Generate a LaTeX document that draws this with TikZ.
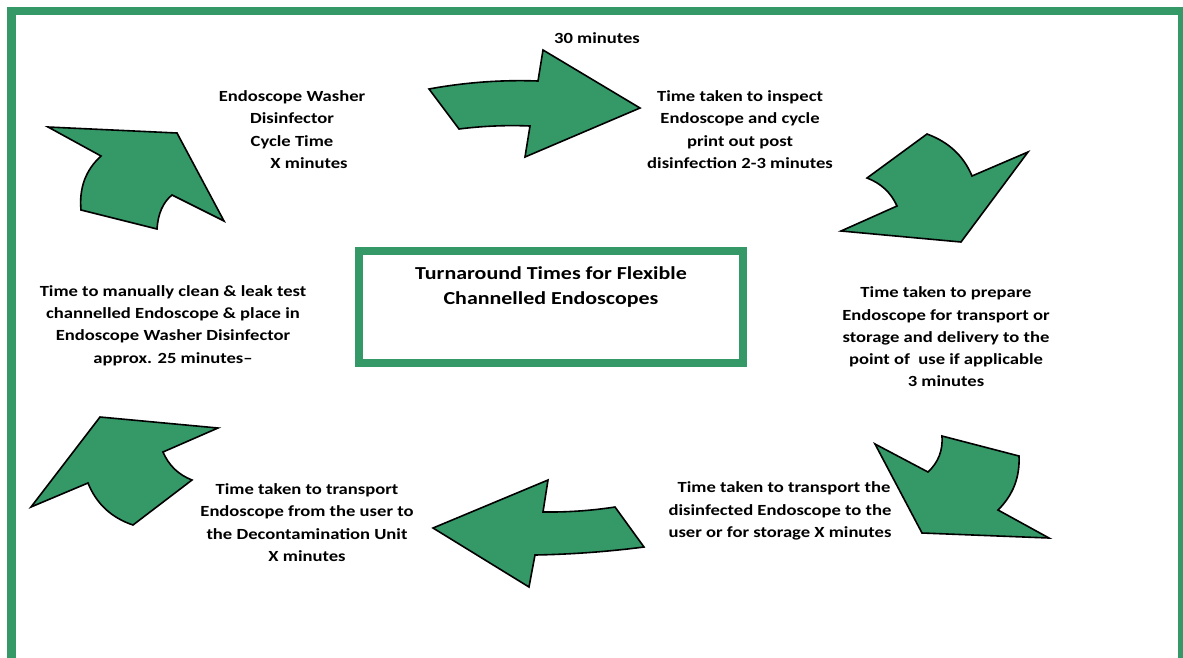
\documentclass[tikz,border=0pt]{standalone}
\usepackage{fontspec}
\setmainfont{Carlito}[FakeStretch=1.2]
\definecolor{grn}{RGB}{52,152,103}
\begin{document}
\begin{tikzpicture}[x=1pt,y=-1pt,
  arr/.style={fill=grn,draw=black,line width=1.6pt,line join=miter},
  lbl/.style={font=\bfseries\fontsize{15.5}{22.3}\selectfont,align=center,inner sep=0pt}]
\useasboundingbox (0,0) rectangle (1183,657);
\begin{scope}
\clip (0,0) rectangle (1183,657);
\draw[grn,line width=8.5pt] (11.5,11) rectangle (1182,720);
\end{scope}
% centre box
\node[draw=grn,line width=7.5pt,minimum width=384pt,minimum height=112pt,inner sep=0pt] (box) at (551,307) {};
\node[font=\bfseries\fontsize{18.3}{25}\selectfont,align=center,inner sep=0pt] (title) at (551,287) {Turnaround Times for Flexible\\Channelled Endoscopes};
% labels
\node[lbl] (t30) at (597,38) {30 minutes};
\node[lbl] (twd) at (292,129.5) {Endoscope Washer\\Disinfector\\Cycle Time\\\hspace*{34pt}X minutes};
\node[lbl] (tinsp) at (740,129.5) {Time taken to inspect\\Endoscope and cycle\\print out post\\disinfection 2-3 minutes};
\node[lbl] (tprep) at (946,337) {Time taken to prepare\\Endoscope for transport or\\storage and delivery to the\\point of\ \ use if applicable\\3 minutes};
\node[lbl] (ttrans) at (780,511) {\hspace*{8pt}Time taken to transport the\\disinfected Endoscope to the\\user or for storage X minutes};
\node[lbl] (tuser) at (307,522.5) {Time taken to transport\\Endoscope from the user to\\the Decontamination Unit\\X minutes};
\node[lbl] (tclean) at (173,325.5) {Time to manually clean \& leak test\\channelled Endoscope \& place in\\Endoscope Washer Disinfector\\approx. 25 minutes–};
% arrows
% top
\draw[arr] (429,89) .. controls (465.3,82.3) and (501.7,79.7) .. (538,81) -- (543,50) -- (640,108) -- (525,157) -- (530,126)
  .. controls (506.3,125) and (482.7,126) .. (459,129) -- cycle;
% top right
\draw[arr] (927,134) .. controls (948.7,142) and (963.7,156) .. (972,176) -- (1028,152) -- (961,242) -- (841,231) -- (897,206)
  .. controls (891,192.7) and (881,183.3) .. (867,178) -- cycle;
% bottom right
\draw[arr] (942,436) -- (1019,456) .. controls (1020,477.2) and (1013,495.2) .. (998,510) -- (1049,538) -- (922,533) -- (875,444)
  -- (928,472) .. controls (938.4,462.3) and (943,450.3) .. cycle;
% bottom
\draw[arr] (433,528) -- (548,480) -- (543,512) .. controls (567,512.3) and (591,510.7) .. (615,507) -- (644,547)
  .. controls (607.7,551.7) and (571.3,554.3) .. (535,555) -- (529,587) -- cycle;
% bottom left
\draw[arr] (31,507) -- (100,417) -- (218,428) -- (163,452) .. controls (168.7,465.3) and (178.3,474.7) .. (192,480) -- (133,525)
  .. controls (111.3,517.7) and (96.3,503.7) .. (88,483) -- cycle;
% top left
\draw[arr] (48,127) -- (177,133) -- (224,221) -- (172,195) .. controls (163,202.3) and (158,213.7) .. (157,229) -- (81,210)
  .. controls (79,188) and (85.6,170) .. (101,156) -- cycle;
\end{tikzpicture}
\end{document}
